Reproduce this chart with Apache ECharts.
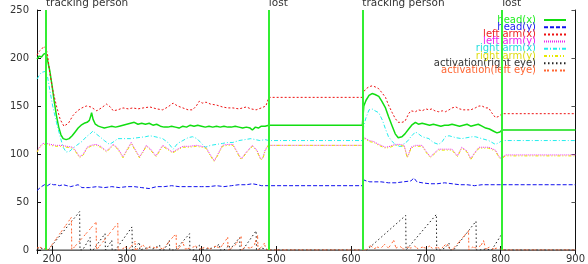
<!DOCTYPE html>
<html>
<head>
<meta charset="utf-8">
<script src="https://cdn.jsdelivr.net/npm/echarts@6/dist/echarts.min.js"></script>
<style>
html, body { margin: 0; padding: 0; background: #fff; }
#chart { width: 588px; height: 264px; }
</style>
</head>
<body>
<div id="chart"></div>
<script>
var yTicks = [0, 50, 100, 150, 200, 250];
var eventX = [192, 490, 615, 802];
var eventLabels = ['tracking person', 'lost', 'tracking person', 'lost'];
var seriesNames = ['head(x)', 'head(y)', 'left arm(x)', 'left arm(y)', 'right arm(x)', 'right arm(y)', 'activation(right eye)', 'activation(left eye)'];

var headX = [[180,199],[183,202],[186,201],[189,204],[192,205],[194,198],[197,187],[200,172],[203,155],[206,140],[209,128],[212,120],[215,116],[219,115],[223,116],[227,119],[231,123],[235,127],[239,130],[243,132],[247,133],[250,135],[252,140],[253,143],[255,136],[258,131],[262,129],[266,128],[270,127],[275,128],[280,129],[285,128],[290,129],[295,130],[300,131],[305,132],[310,133],[315,131],[320,132],[325,131],[330,132],[335,130],[340,131],[345,129],[350,128],[355,128],[360,129],[365,128],[370,127],[375,129],[380,128],[385,130],[390,129],[395,130],[400,129],[405,128],[410,129],[415,128],[420,129],[425,128],[430,129],[435,128],[440,128],[445,129],[450,128],[455,127],[460,128],[465,127],[468,125],[472,128],[476,127],[480,129],[485,129],[490,130],
  [615,130],[617,150],[620,156],[624,161],[628,163],[632,162],[637,160],[641,155],[646,148],[650,139],[655,129],[659,121],[663,117],[668,118],[672,121],[677,126],[681,130],[686,133],[690,131],[695,132],[700,131],[705,130],[710,131],[715,130],[720,129],[725,130],[730,130],[735,131],[740,130],[745,129],[750,130],[755,131],[760,129],[765,130],[770,131],[775,129],[780,127],[785,126],[790,124],[795,122],[799,123],[802,125],[900,125]];

var headY = [[180,62],[183,64],[186,66],[190,68],[194,67],[198,69],[202,68],[206,68],[210,67],[215,68],[220,67],[225,66],[230,67],[235,68],[240,65],[250,65],[260,66],[270,65],[280,66],[290,65],[300,66],[310,66],[320,65],[330,64],[340,66],[350,66],[360,67],[370,66],[380,66],[390,66],[400,66],[410,66],[420,67],[430,66],[440,67],[450,68],[460,68],[468,69],[475,68],[480,67],[490,67],
  [615,67],[617,73],[620,72],[625,71],[630,71],[640,71],[650,70],[660,70],[670,71],[680,72],[684,75],[688,71],[695,70],[705,69],[715,69],[725,70],[735,69],[745,68],[755,68],[765,67],[775,68],[785,68],[795,68],[802,68],[900,68]];

var leftArmX = [[180,203],[183,207],[186,209],[189,212],[192,210],[194,204],[197,185],[201,167],[206,150],[211,136],[216,129],[222,132],[228,140],[234,145],[240,148],[246,150],[252,149],[260,145],[266,148],[273,152],[278,149],[282,145],[288,146],[295,148],[302,147],[308,148],[315,147],[322,148],[331,149],[340,147],[348,146],[355,149],[362,153],[368,150],[375,148],[382,146],[388,146],[393,150],[397,155],[401,153],[406,154],[412,152],[420,151],[428,149],[435,148],[442,148],[450,147],[460,149],[466,147],[473,146],[480,148],[486,150],[490,159],
  [615,159],[617,165],[620,168],[624,170],[628,171],[632,170],[637,168],[641,164],[646,159],[650,151],[655,143],[659,137],[663,133],[668,133],[672,134],[677,142],[680,145],[686,144],[690,146],[695,145],[700,147],[704,146],[708,147],[712,145],[717,144],[722,145],[726,144],[731,146],[735,148],[740,149],[745,147],[750,146],[755,146],[760,146],[766,148],[771,150],[775,150],[780,148],[784,148],[788,143],[793,138],[797,139],[802,142],[900,142]];

var leftArmY = [[180,103],[184,108],[188,111],[193,111],[198,110],[205,109],[212,109],[220,108],[228,107],[232,103],[237,97],[242,100],[247,107],[252,109],[259,110],[265,108],[273,103],[278,107],[282,110],[288,106],[295,97],[300,104],[306,112],[311,105],[317,97],[322,103],[326,109],[332,105],[339,98],[344,104],[348,109],[354,106],[361,102],[368,105],[375,108],[384,108],[393,109],[400,108],[406,107],[411,100],[417,93],[422,100],[428,109],[435,110],[442,110],[447,103],[453,95],[460,102],[468,109],[474,104],[479,95],[482,96],[485,104],[489,109],
  [615,109],[617,117],[620,116],[624,114],[630,113],[637,110],[646,107],[652,108],[659,110],[665,110],[671,109],[675,97],[677,100],[680,107],[686,109],[695,109],[700,103],[706,97],[710,100],[717,105],[726,105],[735,105],[742,98],[748,107],[755,103],[760,95],[764,100],[771,107],[780,107],[784,107],[793,104],[798,97],[801,95],[806,99],[900,99]];

var rightArmX = [[180,178],[183,182],[186,185],[191,186],[194,181],[197,167],[201,150],[206,133],[211,118],[215,107],[219,102],[224,103],[228,106],[233,109],[240,113],[246,118],[251,121],[255,124],[259,121],[264,118],[270,114],[277,110],[283,113],[288,116],[295,116],[305,116],[315,117],[325,118],[331,119],[338,118],[348,116],[355,112],[362,105],[368,111],[375,114],[382,117],[388,118],[394,116],[400,111],[405,107],[412,109],[420,110],[428,111],[435,112],[442,112],[450,114],[458,115],[466,116],[472,115],[478,114],[485,115],[490,114],
  [615,114],[617,130],[620,138],[624,146],[628,147],[632,145],[637,143],[642,135],[646,126],[650,118],[655,113],[659,110],[663,108],[668,108],[671,111],[675,113],[680,118],[686,123],[690,121],[695,118],[704,116],[710,112],[717,110],[722,113],[726,118],[731,119],[740,117],[748,116],[755,117],[762,118],[766,118],[775,116],[784,114],[793,110],[798,112],[802,114],[900,114]];

var rightArmY = [[180,102],[184,107],[188,110],[193,110],[198,109],[205,108],[212,108],[220,107],[228,106],[232,102],[237,96],[242,99],[247,106],[252,108],[259,109],[265,107],[273,102],[278,106],[282,109],[288,105],[295,96],[300,103],[306,111],[311,104],[317,96],[322,102],[326,108],[332,104],[339,97],[344,103],[348,108],[354,105],[361,101],[368,104],[375,107],[384,107],[393,108],[400,107],[406,106],[411,99],[417,92],[422,99],[428,108],[435,109],[442,109],[447,102],[453,94],[460,101],[468,108],[474,103],[479,94],[482,95],[485,103],[489,109],
  [615,109],[617,116],[620,115],[624,113],[630,112],[637,109],[646,106],[652,107],[659,109],[665,109],[671,108],[675,96],[677,99],[680,106],[686,108],[695,108],[700,102],[706,96],[710,99],[717,104],[726,104],[735,104],[742,97],[748,106],[755,102],[760,94],[764,99],[771,106],[780,106],[784,106],[793,103],[798,96],[801,94],[806,98],[900,98]];

var eyeRight = [[180,1],[185,2],[190,1],[195,0],[197,0],[237,40],[237.5,0],[241,0],[251,13],[251.5,0],[255,0],[271,17],[271.5,0],[274,0],[280,10],[280.5,0],[285,0],[307,24],[307.5,0],[310,0],[317,8],[317.5,0],[320,2],[330,3],[335,1],[344,5],[344.5,0],[350,0],[357,10],[357.5,0],[365,0],[384,17],[384.5,0],[390,0],[397,5],[397.5,0],[405,1],[415,2],[424,6],[424.5,0],[430,0],[437,5],[437.5,0],[440,0],[451,13],[451.5,0],[455,0],[473,20],[473.5,0],[480,2],[486,1],[490,0],
  [615,0],[621,0],[673,36],[673.5,0],[676,0],[714,37],[714.5,0],[720,0],[725,2],[731,7],[731.5,0],[734,0],[737,0],[767,30],[767.5,0],[772,0],[780,1],[788,0],[801,16],[801.5,0],[805,0],[900,0]];

var eyeLeft = [[180,2],[184,3],[188,1],[192,2],[195,0],[226,34],[226.5,0],[228,0],[259,29],[259.5,0],[262,0],[288,28],[288.5,0],[292,0],[298,3],[303,1],[311,9],[311.5,0],[316,2],[322,5],[326,1],[332,4],[338,2],[343,3],[348,1],[352,4],[360,12],[366,17],[366.5,0],[370,2],[375,8],[378,1],[385,2],[392,4],[398,1],[405,3],[412,1],[418,4],[425,2],[435,13],[435.5,0],[440,2],[445,5],[450,11],[453,14],[453.5,0],[458,3],[465,2],[470,4],[475,15],[475.5,0],[480,3],[484,7],[486,1],[490,0],
  [615,0],[620,0],[626,5],[630,1],[635,3],[640,2],[645,6],[650,2],[657,10],[660,2],[665,4],[670,1],[675,3],[680,2],[685,4],[690,1],[695,3],[700,2],[705,4],[710,1],[715,3],[720,1],[728,7],[732,1],[735,0],[757,20],[757.5,0],[762,3],[768,2],[774,5],[777,10],[780,1],[785,3],[790,1],[795,2],[800,1],[805,0],[900,0]];

var lineColors = ['#11dd11', '#1111ee', '#ee1111', '#ee22ee', '#22eeee', '#e8e800', '#222222', '#ff6633'];
var textColors = ['#22ee22', '#2222ee', '#ee2222', '#ee22ee', '#22dddd', '#dddd11', '#333333', '#ff6633'];
var dashes = ['solid', [4, 2], [2, 2], [1, 1], [4, 2, 1, 2], [3, 2, 1, 2, 1, 2], [1.5, 2.5], [2, 1, 2, 3]];
var allData = [headX, headY, leftArmX, leftArmY, rightArmX, rightArmY, eyeRight, eyeLeft];

var chart = echarts.init(document.getElementById('chart'));
var font = 'DejaVu Sans';

var series = [];
for (var i = 0; i < allData.length; i++) {
    series.push({
        name: seriesNames[i],
        type: 'line',
        data: allData[i],
        symbol: 'none',
        silent: true,
        lineStyle: { color: lineColors[i], width: i === 0 ? 1.5 : 1, type: dashes[i] },
        itemStyle: { color: lineColors[i] }
    });
}
series[0].markLine = {
    silent: true,
    symbol: 'none',
    animation: false,
    lineStyle: { color: '#33ee33', width: 2, type: 'solid' },
    label: {
        position: 'end', align: 'left', verticalAlign: 'bottom', distance: 1,
        color: '#333', fontSize: 10.5, fontFamily: font
    },
    data: eventX.map(function (x, k) {
        return { xAxis: x, label: { formatter: eventLabels[k] } };
    })
};

var option = {
    animation: false,
    backgroundColor: '#fff',
    grid: { left: 37, right: 11, top: 10, bottom: 12 },
    legend: {
        orient: 'vertical',
        right: 21,
        top: 15,
        align: 'right',
        itemWidth: 22,
        itemHeight: 7,
        itemGap: -2.8,
        padding: 0,
        selectedMode: false,
        itemStyle: { opacity: 0 },
        textStyle: { fontSize: 10, fontFamily: font, padding: [0, 3, 0, 0] },
        data: seriesNames.map(function (n, k) {
            return { name: n, textStyle: { color: textColors[k] } };
        })
    },
    xAxis: [{
        type: 'value', min: 180, max: 900, splitNumber: 7,
        axisLine: { lineStyle: { color: '#111', width: 1 } },
        axisTick: { inside: true, length: 4, lineStyle: { color: '#111' } },
        axisLabel: {
            fontSize: 10, fontFamily: font, color: '#333', margin: 4,
            formatter: function (v) { return v % 100 === 0 ? String(v) : ''; }
        },
        splitLine: { show: false }
    }, {
        type: 'value', min: 180, max: 900, splitNumber: 7, position: 'top',
        axisLine: { lineStyle: { color: '#888', width: 1.5 } },
        axisTick: { inside: true, length: 4, lineStyle: { color: '#111' } },
        axisLabel: { show: false },
        splitLine: { show: false }
    }],
    yAxis: [{
        type: 'value', min: 0, max: 250, interval: 50,
        axisLine: { show: true, lineStyle: { color: '#111', width: 1 } },
        axisTick: { show: true, inside: true, length: 4, lineStyle: { color: '#111' } },
        axisLabel: { fontSize: 10, fontFamily: font, color: '#333', margin: 8 },
        splitLine: { show: false }
    }, {
        type: 'value', min: 0, max: 250, interval: 50, position: 'right',
        axisLine: { show: true, lineStyle: { color: '#111', width: 1 } },
        axisTick: { show: true, inside: true, length: 4, lineStyle: { color: '#555' } },
        axisLabel: { show: false },
        splitLine: { show: false }
    }],
    series: series
};
chart.setOption(option);
</script>
</body>
</html>
